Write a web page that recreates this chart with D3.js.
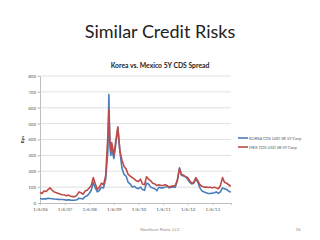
<!DOCTYPE html>
<html>
<head>
<meta charset="utf-8" />
<title>Similar Credit Risks</title>
<script src="https://d3js.org/d3.v7.min.js"></script>
<style>
  body { margin: 0; background: #fff; }
  svg { display: block; font-family: Lato, "Open Sans", sans-serif; }
</style>
</head>
<body>
<div id="chart"></div>
<script>
// values (bps)
const dates = [
  "2006-01-06","2006-02-06","2006-03-06","2006-04-06","2006-05-06","2006-06-06","2006-07-06","2006-08-06","2006-09-06","2006-10-06","2006-11-06","2006-12-06",
  "2007-01-06","2007-02-06","2007-03-06","2007-04-06","2007-05-06","2007-06-06","2007-07-06","2007-08-06","2007-09-06","2007-10-06","2007-11-06","2007-12-06",
  "2008-01-06","2008-02-06","2008-03-06","2008-04-06","2008-05-06","2008-06-06","2008-07-06","2008-08-06","2008-09-06","2008-10-10","2008-10-24","2008-11-07","2008-11-21","2008-12-06",
  "2009-01-06","2009-02-06","2009-03-06","2009-04-06","2009-05-06","2009-06-06","2009-07-06","2009-08-06","2009-09-06","2009-10-06","2009-11-06","2009-12-06",
  "2010-01-06","2010-02-06","2010-03-06","2010-04-06","2010-05-06","2010-06-06","2010-07-06","2010-08-06","2010-09-06","2010-10-06","2010-11-06","2010-12-06",
  "2011-01-06","2011-02-06","2011-03-06","2011-04-06","2011-05-06","2011-06-06","2011-07-06","2011-08-06","2011-09-06","2011-10-06","2011-11-06","2011-12-06",
  "2012-01-06","2012-02-06","2012-03-06","2012-04-06","2012-05-06","2012-06-06","2012-07-06","2012-08-06","2012-09-06","2012-10-06","2012-11-06","2012-12-06",
  "2013-01-06","2013-02-06","2013-03-06","2013-04-06","2013-05-06","2013-06-06","2013-07-06","2013-08-06","2013-09-06","2013-10-06"
];
const korea = [
  28,25,27,26,30,28,27,25,24,23,22,22,
  20,18,20,18,17,18,20,30,28,25,40,45,
  60,80,130,95,70,80,100,95,150,330,683,380,300,340,
  280,380,470,320,220,180,170,130,120,100,105,95,
  90,100,85,80,125,120,100,95,90,78,100,95,
  95,100,105,95,100,100,100,140,222,175,170,165,
  150,130,120,125,150,130,95,75,70,65,60,60,
  62,65,70,60,70,95,90,85,75,68
];
const mexico = [
  68,60,75,72,85,95,80,70,65,60,55,52,
  50,45,50,42,40,40,48,70,65,55,75,80,
  95,110,160,120,85,100,125,115,170,430,585,400,330,380,
  300,400,480,330,270,230,215,180,170,160,150,140,
  135,150,120,115,165,150,140,125,120,110,115,110,
  110,115,110,100,105,108,110,145,215,180,175,165,
  160,140,125,130,160,140,115,105,100,100,98,100,
  95,100,95,90,110,160,130,125,115,105
];
const seriesNames = ["KOREA CDS USD SR 5Y Corp", "MEX CDS USD SR 5Y Corp"];
const seriesColors = ["#4a7ebb", "#be4b48"];
const yTicks = [0, 100, 200, 300, 400, 500, 600, 700, 800];
const xTickLabels = ["1/6/06","1/6/07","1/6/08","1/6/09","1/6/10","1/6/11","1/6/12","1/6/13"];

const width = 320, height = 240;
const margin = {left: 40, right: 89, top: 76, bottom: 37};

const parse = d3.timeParse("%Y-%m-%d");
const parseTick = d3.timeParse("%m/%d/%y");

const svg = d3.select("#chart").append("svg")
  .attr("width", width)
  .attr("height", height);

svg.append("text")
  .attr("x", 160).attr("y", 38)
  .attr("text-anchor", "middle")
  .attr("font-size", 18)
  .attr("fill", "#222")
  .text("Similar Credit Risks");

svg.append("text")
  .attr("x", 160).attr("y", 68)
  .attr("text-anchor", "middle")
  .attr("font-size", 6.8)
  .attr("font-weight", "bold")
  .attr("fill", "#222")
  .text("Korea vs. Mexico 5Y CDS Spread");

const x = d3.scaleTime()
  .domain([parse("2006-01-06"), parse("2013-10-10")])
  .range([margin.left, width - margin.right]);

const y = d3.scaleLinear()
  .domain([0, 800])
  .range([height - margin.bottom, margin.top]);

// grid
svg.append("g")
  .selectAll("line")
  .data(yTicks.slice(1))
  .join("line")
  .attr("x1", margin.left - 2).attr("x2", width - margin.right)
  .attr("y1", d => y(d)).attr("y2", d => y(d))
  .attr("stroke", "#d9d9d9")
  .attr("stroke-width", 0.8);

const yAxis = svg.append("g")
  .attr("transform", `translate(${margin.left},0)`)
  .call(d3.axisLeft(y).tickValues(yTicks).tickSize(2).tickPadding(2));
yAxis.select(".domain").attr("stroke", "#bfbfbf");
yAxis.selectAll(".tick line").attr("stroke", "#bfbfbf");
yAxis.selectAll("text").attr("font-size", 4.5).attr("fill", "#595959").attr("font-family", "Lato, sans-serif");

const xAxis = svg.append("g")
  .attr("transform", `translate(0,${y(0)})`)
  .call(d3.axisBottom(x)
    .tickValues(xTickLabels.map(parseTick))
    .tickFormat((d, i) => xTickLabels[i])
    .tickSize(2).tickPadding(3));
xAxis.select(".domain").attr("stroke", "#bfbfbf");
xAxis.selectAll(".tick line").attr("stroke", "#bfbfbf");
xAxis.selectAll("text").attr("font-size", 4.5).attr("fill", "#595959").attr("font-family", "Lato, sans-serif");

svg.append("text")
  .attr("transform", `translate(24,${(y(0) + y(800)) / 2}) rotate(-90)`)
  .attr("text-anchor", "middle")
  .attr("font-size", 4.5)
  .attr("font-weight", "bold")
  .attr("fill", "#333")
  .text("Bps");

const line = d3.line()
  .x((d, i) => x(parse(dates[i])))
  .y(d => y(d));

[korea, mexico].forEach((vals, k) => {
  svg.append("path")
    .datum(vals)
    .attr("fill", "none")
    .attr("stroke", seriesColors[k])
    .attr("stroke-width", 1.6)
    .attr("stroke-linejoin", "round")
    .attr("d", line);
});

// legend
const legend = svg.append("g").attr("transform", "translate(238,138)");
seriesNames.forEach((name, k) => {
  legend.append("line")
    .attr("x1", 0).attr("x2", 10)
    .attr("y1", k * 9).attr("y2", k * 9)
    .attr("stroke", seriesColors[k])
    .attr("stroke-width", 1.6);
  legend.append("text")
    .attr("x", 11).attr("y", k * 9 + 1.5)
    .attr("font-size", 4)
    .attr("fill", "#595959")
    .text(name);
});

svg.append("text")
  .attr("x", 160).attr("y", 231)
  .attr("text-anchor", "middle")
  .attr("font-size", 4.5)
  .attr("fill", "#8c8c8c")
  .text("Northern Point, LLC");

svg.append("text")
  .attr("x", 298).attr("y", 231)
  .attr("text-anchor", "middle")
  .attr("font-size", 4.5)
  .attr("fill", "#8c8c8c")
  .text("16");
</script>
</body>
</html>
